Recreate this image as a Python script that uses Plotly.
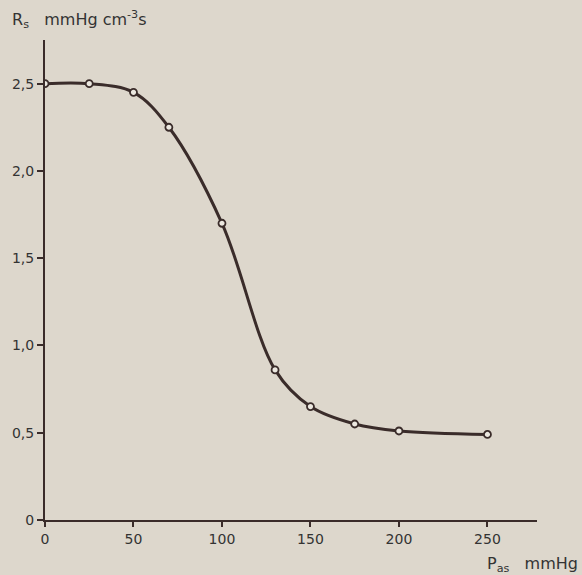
import plotly.graph_objects as go

pressure = [0, 25, 50, 70, 100, 130, 150, 175, 200, 250]
resistance = [2.50, 2.50, 2.45, 2.25, 1.70, 0.86, 0.65, 0.55, 0.51, 0.49]

x_ticks = [0, 50, 100, 150, 200, 250]
x_tick_labels = ["0", "50", "100", "150", "200", "250"]
y_ticks = [0, 0.5, 1.0, 1.5, 2.0, 2.5]
y_tick_labels = ["0", "0,5", "1,0", "1,5", "2,0", "2,5"]

bg = "#ddd7cc"
ink = "#3a2c2a"
font = "DejaVu Sans"

fig = go.Figure()
fig.add_trace(go.Scatter(
    x=pressure, y=resistance,
    mode="lines+markers",
    line=dict(color=ink, width=3, shape="spline", smoothing=1.0),
    marker=dict(symbol="circle", size=7, color="#ece8e0",
                line=dict(color=ink, width=1.8)),
    showlegend=False,
))

fig.update_layout(
    width=582, height=575,
    paper_bgcolor=bg, plot_bgcolor=bg,
    margin=dict(l=45, r=45, t=40, b=55),
    font=dict(family=font, size=14, color="#333"),
    xaxis=dict(range=[0, 278], tickvals=x_ticks, ticktext=x_tick_labels,
               showgrid=False, zeroline=False, showline=True,
               linecolor=ink, linewidth=2, ticks="outside", ticklen=5,
               tickwidth=1.5, tickcolor=ink, tickfont=dict(size=14, color="#333")),
    yaxis=dict(range=[0, 2.75], tickvals=y_ticks, ticktext=y_tick_labels,
               showgrid=False, zeroline=False, showline=True,
               linecolor=ink, linewidth=2, ticks="outside", ticklen=6,
               tickwidth=1.5, tickcolor=ink, tickfont=dict(size=14, color="#333")),
    annotations=[
        dict(text="R<sub>s</sub>   mmHg cm<sup>-3</sup>s", xref="paper", yref="paper",
             x=-0.071, y=1.0, yshift=21, xanchor="left", yanchor="middle",
             showarrow=False, font=dict(size=16, color="#333", family=font)),
        dict(text="P<sub>as</sub>   mmHg", xref="paper", yref="paper",
             x=1.088, y=0, yshift=-44, xanchor="right", yanchor="middle",
             showarrow=False, font=dict(size=16, color="#333", family=font)),
    ],
)

fig.write_html("out.html")
